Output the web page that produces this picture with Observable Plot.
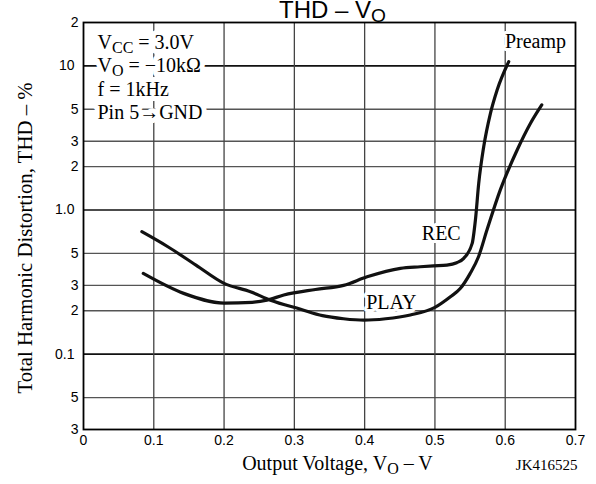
<!DOCTYPE html>
<html>
<head>
<meta charset="utf-8">
<script src="https://cdn.jsdelivr.net/npm/d3@7"></script>
<script src="https://cdn.jsdelivr.net/npm/@observablehq/plot@0.6"></script>
<style>
  html, body { margin: 0; padding: 0; background: #fff; }
  #chart svg { display: block; }
</style>
</head>
<body>
<div id="chart"></div>
<script>
// ---- data ----
const playV   = [0.083, 0.12, 0.16, 0.2, 0.2375, 0.266, 0.309, 0.34, 0.37, 0.399, 0.43, 0.465, 0.5, 0.522, 0.536, 0.55, 0.562, 0.574, 0.593, 0.617, 0.636, 0.652];
const playTHD = [0.707, 0.556, 0.415, 0.31, 0.271, 0.237, 0.205, 0.185, 0.176, 0.172, 0.176, 0.187, 0.211, 0.25, 0.285, 0.362, 0.474, 0.726, 1.38, 2.61, 4.0, 5.36];

const recV    = [0.085, 0.1425, 0.2, 0.24, 0.261, 0.285, 0.33, 0.37, 0.4035, 0.451, 0.479, 0.498, 0.517, 0.531, 0.541, 0.553, 0.5576, 0.5623, 0.5694, 0.579, 0.5885, 0.605];
const recTHD  = [0.363, 0.264, 0.226, 0.229, 0.237, 0.257, 0.281, 0.30, 0.344, 0.394, 0.404, 0.41, 0.415, 0.431, 0.462, 0.587, 0.853, 1.53, 2.75, 4.69, 6.81, 10.7];

const xTicks      = [0, 0.1, 0.2, 0.3, 0.4, 0.5, 0.6, 0.7];
const xTickLabels = ["0", "0.1", "0.2", "0.3", "0.4", "0.5", "0.6", "0.7"];
const yTicks      = [20, 10, 5, 3, 2, 1, 0.5, 0.3, 0.2, 0.1, 0.05, 0.03];
const yTickLabels = ["2", "10", "5", "3", "2", "1.0", "5", "3", "2", "0.1", "5", "3"];
const yGrid       = [10, 5, 3, 2, 1, 0.5, 0.3, 0.2, 0.1, 0.05];
const xGrid       = [0.1, 0.2, 0.3, 0.4, 0.5, 0.6];

const curveLabels  = ["REC", "PLAY", "Preamp"];
const curveLabelX  = [0.509, 0.438, 0.643];
const curveLabelY  = [0.62, 0.205, 13.3];

const boxLines = ["V_{CC} = 3.0V", "V_{O} = \u221210k\u03A9", "f = 1kHz", "Pin 5\u2192GND"];

const title  = "THD \u2013 V_{O}";
const xLabel = "Output Voltage, V_{O} \u2013 V";
const yLabel = "Total Harmonic Distortion, THD \u2013 %";
const code   = "JK416525";

// ---- build tables ----
const play = playV.map((v, i) => ({v, thd: playTHD[i]}));
const rec  = recV.map((v, i) => ({v, thd: recTHD[i]}));
const labels = curveLabels.map((name, i) => ({name, x: curveLabelX[i], y: curveLabelY[i]}));
const lookup = (ticks, names) => d => {
  const i = ticks.findIndex(t => Math.abs(t - d) <= Math.abs(t) * 1e-6 + 1e-12);
  return i < 0 ? "" : names[i];
};
const xFmt = lookup(xTicks, xTickLabels);
const yFmt = lookup(yTicks, yTickLabels);
const ySingle = yTicks.filter(d => yFmt(d).length === 1);
const yMulti  = yTicks.filter(d => yFmt(d).length > 1);

const serif = "'Liberation Serif', 'Times New Roman', serif";
const sans  = "'Liberation Sans', Arial, Helvetica, sans-serif";
const major = new Set([10, 1, 0.1]);

// one mark per line of the test-condition box; a white halo hides the grid behind it.
// Drawn bottom line first so that upper lines (with subscripts) stay on top.
const boxMarks = boxLines.map((line, i) => Plot.text([line], {
  frameAnchor: "top-left", dx: 14, dy: 26 + i * 23.6, lineAnchor: "bottom", textAnchor: "start",
  text: d => d, fontFamily: serif, fontSize: 20, fill: "black",
  stroke: "white", strokeWidth: 10, strokeLinejoin: "round"
})).reverse();

const chart = Plot.plot({
  width: 596,
  height: 484,
  marginLeft: 83,
  marginRight: 21,
  marginTop: 22,
  marginBottom: 55,
  style: {fontFamily: sans, fontSize: "14px", background: "white", color: "black"},
  x: {domain: [0, 0.7], axis: null},
  y: {type: "log", domain: [0.03, 20], axis: null},
  marks: [
    Plot.ruleY(yGrid, {stroke: d => major.has(d) ? "#111" : "#555", strokeWidth: d => major.has(d) ? 1.7 : 1.3}),
    Plot.ruleX(xGrid, {stroke: "#444", strokeWidth: 1.3}),
    // tick labels
    Plot.text(xTicks, {x: d => d, frameAnchor: "bottom", dy: 11, lineAnchor: "middle", textAnchor: "middle",
      text: xFmt, fontFamily: sans, fontSize: 14, fill: "black"}),
    Plot.text(ySingle, {y: d => d, frameAnchor: "left", dx: -5, lineAnchor: "middle", textAnchor: "end",
      text: yFmt, fontFamily: sans, fontSize: 14, fill: "black"}),
    Plot.text(yMulti, {y: d => d, frameAnchor: "left", dx: -9, lineAnchor: "middle", textAnchor: "end",
      text: yFmt, fontFamily: sans, fontSize: 14, fill: "black"}),
    ...boxMarks,
    Plot.line(play, {x: "v", y: "thd", curve: "monotone-x", stroke: "#111", strokeWidth: 3.2}),
    Plot.line(rec,  {x: "v", y: "thd", curve: "monotone-x", stroke: "#111", strokeWidth: 3.2}),
    Plot.text(labels, {x: "x", y: "y", text: "name", lineAnchor: "bottom", textAnchor: "middle",
      fontFamily: serif, fontSize: 20, fill: "black", stroke: "white", strokeWidth: 6}),
    Plot.frame({stroke: "black", strokeWidth: 1.8}),
    // title and axis labels
    Plot.text([title], {frameAnchor: "top", dx: 3, dy: -5, lineAnchor: "bottom", textAnchor: "middle", text: d => d,
      fontFamily: sans, fontSize: 24, fill: "black"}),
    Plot.text([xLabel], {frameAnchor: "bottom", dx: 8, dy: 40, lineAnchor: "bottom", textAnchor: "middle", text: d => d,
      fontFamily: serif, fontSize: 20, fill: "black"}),
    Plot.text([code], {frameAnchor: "bottom-right", dx: 2, dy: 40, lineAnchor: "bottom", textAnchor: "end", text: d => d,
      fontFamily: serif, fontSize: 15, fill: "black"}),
    Plot.text([yLabel], {frameAnchor: "left", dx: -58, dy: 12, rotate: -90, lineAnchor: "middle", textAnchor: "middle", text: d => d,
      fontFamily: serif, fontSize: 20.8, fill: "black"})
  ]
});

// turn "_{...}" into real subscripts
function applySubscripts(svg) {
  const ns = "http://www.w3.org/2000/svg";
  svg.querySelectorAll("text, tspan").forEach(el => {
    if (el.children.length) return;
    const s = el.textContent;
    if (!s.includes("_{")) return;
    el.textContent = "";
    const re = /_\{([^}]*)\}/g;
    let last = 0, m, shifted = false;
    while ((m = re.exec(s))) {
      if (m.index > last) {
        const t = document.createElementNS(ns, "tspan");
        t.textContent = s.slice(last, m.index);
        if (shifted) { t.setAttribute("dy", "-0.2em"); shifted = false; }
        el.appendChild(t);
      }
      const sub = document.createElementNS(ns, "tspan");
      sub.setAttribute("dy", "0.25em");
      sub.setAttribute("font-size", "80%");
      sub.textContent = m[1];
      el.appendChild(sub);
      shifted = true;
      last = m.index + m[0].length;
    }
    if (last < s.length) {
      const t = document.createElementNS(ns, "tspan");
      t.textContent = s.slice(last);
      if (shifted) t.setAttribute("dy", "-0.2em");
      el.appendChild(t);
    }
  });
}
applySubscripts(chart);
document.getElementById("chart").appendChild(chart);
</script>
</body>
</html>
